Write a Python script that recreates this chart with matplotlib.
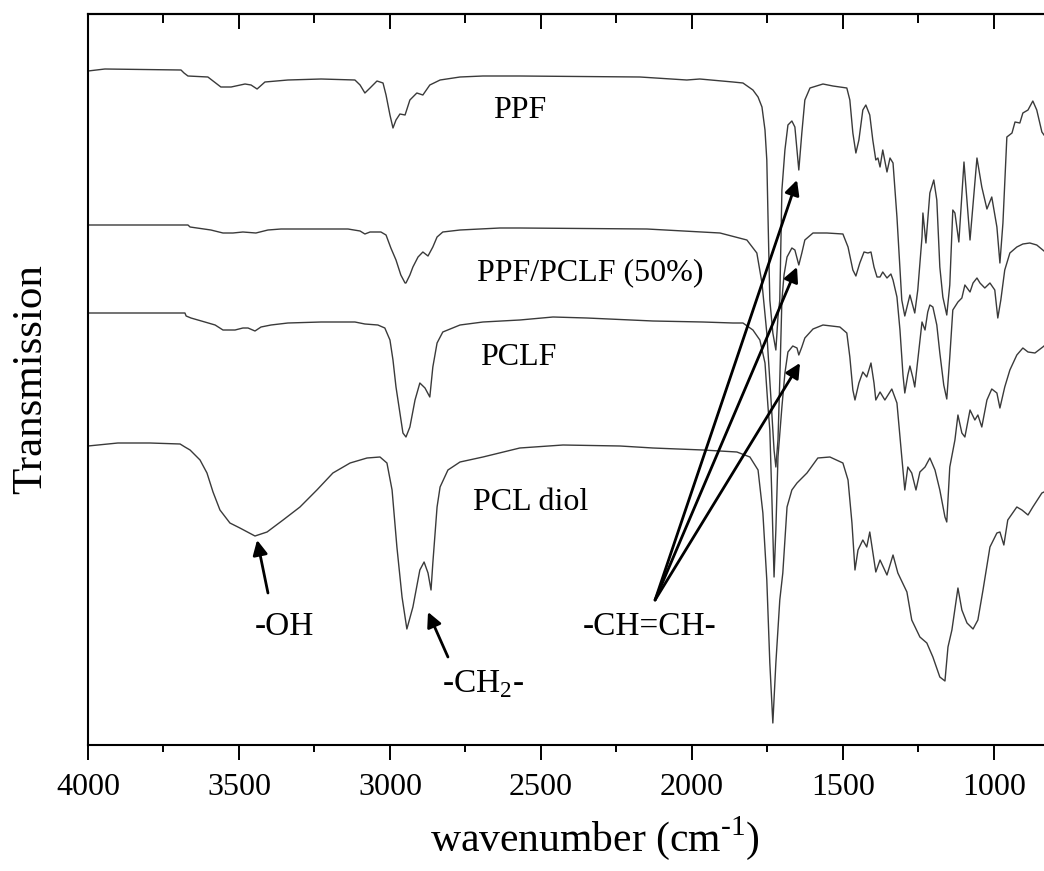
import matplotlib
matplotlib.use("Agg")
import matplotlib.pyplot as plt
import numpy as np

plt.rcParams['font.family'] = ['Liberation Serif', 'DejaVu Serif']
plt.rcParams['mathtext.fontset'] = 'custom'
plt.rcParams['mathtext.rm'] = 'Liberation Serif'

# FTIR spectra: (wavenumber cm-1, transmission a.u., offset stacked)
ppf = [(4000, 674), (3944, 676), (3692, 675), (3682, 672), (3669, 669), (3603, 668), (3560, 658),
       (3526, 658), (3480, 661), (3460, 660), (3440, 656), (3414, 663), (3338, 665), (3228, 666),
       (3116, 665), (3099, 660), (3083, 652), (3066, 657), (3043, 664), (3023, 662), (3013, 650),
       (3000, 630), (2990, 617), (2980, 625), (2967, 631), (2950, 630), (2934, 645), (2911, 652),
       (2891, 650), (2868, 660), (2834, 665), (2768, 668), (2692, 669), (2570, 669), (2172, 668),
       (2017, 665), (1974, 666), (1864, 663), (1831, 662), (1798, 655), (1781, 648), (1768, 638),
       (1758, 615), (1752, 585), (1748, 528), (1742, 445), (1732, 412), (1722, 395), (1715, 428),
       (1709, 445), (1702, 555), (1692, 595), (1682, 620), (1669, 624), (1659, 618), (1646, 575),
       (1636, 612), (1626, 645), (1609, 657), (1566, 661), (1533, 659), (1487, 657), (1477, 645),
       (1467, 612), (1457, 592), (1447, 605), (1434, 635), (1424, 640), (1411, 630), (1401, 605),
       (1391, 585), (1384, 587), (1377, 578), (1368, 595), (1354, 573), (1344, 587), (1334, 582),
       (1321, 528), (1305, 445), (1295, 429), (1278, 450), (1262, 432), (1252, 455), (1238, 508),
       (1235, 532), (1225, 502), (1212, 552), (1199, 565), (1189, 545), (1179, 478), (1169, 448),
       (1156, 430), (1146, 460), (1136, 535), (1129, 532), (1116, 503), (1099, 583), (1079, 505),
       (1056, 587), (1040, 558), (1023, 536), (1007, 548), (990, 518), (980, 482), (970, 522),
       (957, 608), (940, 612), (930, 623), (914, 622), (904, 632), (887, 635), (871, 644),
       (858, 635), (841, 613), (834, 610)]

ppf_pclf = [(4000, 520), (3669, 520), (3662, 518), (3593, 515), (3553, 512), (3520, 512), (3487, 513),
            (3444, 512), (3404, 515), (3361, 516), (3228, 516), (3139, 516), (3099, 514), (3083, 511),
            (3066, 513), (3030, 513), (3013, 510), (2997, 497), (2980, 485), (2964, 470), (2950, 462),
            (2947, 462), (2934, 470), (2924, 478), (2907, 488), (2891, 493), (2874, 489), (2858, 498),
            (2844, 508), (2825, 513), (2768, 515), (2636, 517), (2570, 517), (2149, 516), (1907, 512),
            (1818, 505), (1785, 492), (1768, 462), (1752, 412), (1738, 345), (1728, 295), (1722, 278),
            (1715, 305), (1709, 365), (1702, 445), (1695, 470), (1685, 488), (1669, 497), (1659, 495),
            (1646, 480), (1636, 492), (1626, 505), (1599, 512), (1553, 512), (1500, 511), (1483, 498),
            (1467, 475), (1457, 469), (1444, 482), (1430, 493), (1417, 492), (1407, 493), (1397, 478),
            (1387, 468), (1377, 468), (1368, 473), (1354, 467), (1341, 471), (1334, 465), (1321, 448),
            (1311, 415), (1301, 370), (1295, 352), (1285, 370), (1278, 379), (1268, 367), (1262, 358),
            (1252, 385), (1238, 423), (1228, 415), (1219, 433), (1212, 440), (1202, 438), (1189, 420),
            (1179, 392), (1166, 360), (1156, 346), (1146, 388), (1136, 435), (1119, 443), (1106, 447),
            (1096, 460), (1079, 453), (1069, 462), (1056, 467), (1046, 462), (1030, 457), (1013, 462),
            (997, 455), (987, 427), (977, 445), (964, 475), (947, 492), (924, 498), (904, 501),
            (881, 502), (858, 500), (838, 495), (834, 494)]

pclf = [(4000, 432), (3679, 432), (3675, 429), (3659, 427), (3613, 423), (3579, 420), (3553, 415),
        (3513, 415), (3487, 417), (3470, 417), (3447, 414), (3427, 418), (3394, 420), (3338, 422),
        (3228, 423), (3116, 423), (3083, 421), (3040, 420), (3017, 417), (3000, 405), (2990, 385),
        (2980, 358), (2967, 332), (2957, 312), (2947, 308), (2934, 318), (2917, 345), (2901, 362),
        (2884, 357), (2868, 348), (2858, 378), (2844, 402), (2825, 413), (2768, 420), (2692, 423),
        (2570, 425), (2460, 428), (2348, 427), (2129, 424), (1964, 423), (1864, 422), (1831, 422),
        (1798, 415), (1775, 405), (1758, 382), (1748, 338), (1742, 315), (1735, 245), (1728, 168),
        (1722, 215), (1715, 288), (1702, 338), (1692, 372), (1682, 393), (1666, 399), (1652, 397),
        (1646, 390), (1636, 398), (1626, 407), (1599, 416), (1566, 420), (1510, 418), (1487, 412),
        (1477, 388), (1467, 355), (1460, 345), (1447, 362), (1434, 373), (1421, 368), (1407, 382),
        (1397, 362), (1391, 345), (1377, 353), (1361, 345), (1338, 356), (1321, 342), (1305, 288),
        (1295, 255), (1285, 278), (1272, 272), (1258, 255), (1245, 273), (1228, 278), (1212, 287),
        (1195, 275), (1179, 255), (1162, 228), (1156, 223), (1146, 278), (1129, 305), (1119, 330),
        (1106, 312), (1096, 308), (1079, 335), (1063, 325), (1053, 330), (1040, 318), (1023, 345),
        (1007, 356), (990, 352), (980, 337), (964, 358), (947, 375), (924, 390), (904, 397),
        (887, 393), (864, 392), (838, 398), (834, 399)]

pcl_diol = [(4000, 299), (3901, 302), (3795, 302), (3695, 301), (3679, 298), (3662, 295), (3629, 285),
            (3606, 272), (3586, 253), (3563, 235), (3530, 222), (3497, 217), (3447, 209), (3407, 213),
            (3354, 225), (3298, 238), (3242, 255), (3189, 272), (3132, 282), (3076, 287), (3033, 288),
            (3010, 282), (2993, 255), (2977, 198), (2960, 148), (2944, 116), (2924, 138), (2901, 175),
            (2887, 183), (2874, 172), (2864, 155), (2858, 182), (2844, 238), (2834, 258), (2808, 275),
            (2768, 283), (2692, 288), (2570, 297), (2427, 300), (2238, 299), (2129, 297), (1964, 295),
            (1851, 293), (1808, 288), (1781, 275), (1765, 232), (1752, 165), (1742, 82), (1732, 22),
            (1722, 82), (1709, 145), (1699, 172), (1685, 238), (1669, 255), (1652, 262), (1619, 272),
            (1583, 287), (1543, 288), (1500, 282), (1483, 265), (1470, 222), (1460, 175), (1450, 195),
            (1434, 205), (1421, 198), (1411, 213), (1401, 193), (1391, 173), (1377, 185), (1354, 170),
            (1334, 190), (1318, 172), (1288, 153), (1272, 125), (1245, 108), (1222, 102), (1202, 88),
            (1179, 68), (1162, 64), (1152, 98), (1139, 115), (1119, 157), (1106, 135), (1089, 122),
            (1069, 116), (1053, 125), (1036, 155), (1013, 198), (990, 212), (980, 213), (967, 200),
            (954, 225), (924, 238), (907, 235), (887, 230), (871, 238), (841, 252), (834, 253)]

# sample labels: (text, wavenumber, y)
sample_labels = [('PPF', 2659, 627), ('PPF/PCLF (50%)', 2712, 465),
                 ('PCLF', 2702, 380), ('PCL diol', 2725, 235)]

# band labels and arrows (tail -> head)
band_labels = [('-OH', (3447, 110)), ('-CH$_\\mathregular{2}$-', (2828, 53)), ('-CH=CH-', (2361, 110))]
arrows = [((3404, 152), (3440, 205)),
          ((2808, 88), (2874, 133)),
          ((2122, 145), (1652, 565)),
          ((2122, 145), (1652, 478)),
          ((2122, 145), (1642, 382))]

fig = plt.figure(figsize=(10.44, 8.71), dpi=100)
ax = fig.add_axes([88 / 1044, 126 / 871, 1 - 88 / 1044, 731 / 871])

for spec in [ppf, ppf_pclf, pclf, pcl_diol]:
    wn, t = np.array(spec).T
    ax.plot(wn, t, color='#3a3a3a', lw=1.0)

for txt, x, y in sample_labels:
    ax.text(x, y, txt, fontsize=23, ha='left', va='baseline')
for txt, (x, y) in band_labels:
    ax.text(x, y, txt, fontsize=24, ha='left', va='baseline')
for tail, head in arrows:
    ax.annotate('', xy=head, xytext=tail,
                arrowprops=dict(arrowstyle='-|>', color='black', lw=2,
                                mutation_scale=22, shrinkA=0, shrinkB=0))

major = [4000, 3500, 3000, 2500, 2000, 1500, 1000]
minor = np.arange(3750, 800, -500)

ax.set_xlim(4000, 834)
ax.set_ylim(0, 731)
ax.set_yticks([])
ax.set_xticks(major)
ax.set_xticks(minor, minor=True)
ax.tick_params(axis='x', which='major', direction='out', length=11, width=1.4,
               labelsize=23, pad=9)
ax.tick_params(axis='x', which='minor', direction='out', length=5, width=1.4)

top = ax.secondary_xaxis('top')
top.set_xticks(major)
top.set_xticks(minor, minor=True)
top.tick_params(which='major', direction='in', length=11, width=1.4, labeltop=False)
top.tick_params(which='minor', direction='in', length=6.5, width=1.4)
top.spines['top'].set_linewidth(1.5)

for s in ['left', 'bottom', 'top']:
    ax.spines[s].set_linewidth(1.5)
ax.spines['right'].set_visible(False)

ax.set_xlabel('wavenumber (cm$^{\\mathregular{\u2010}\\mathregular{1}}$)', fontsize=30)
ax.xaxis.set_label_coords((595 - 88) / 956, -0.095)
ax.set_ylabel('Transmission', fontsize=31)
ax.yaxis.set_label_coords(-0.040, 0.5)

fig.savefig('out.png', dpi=100)
